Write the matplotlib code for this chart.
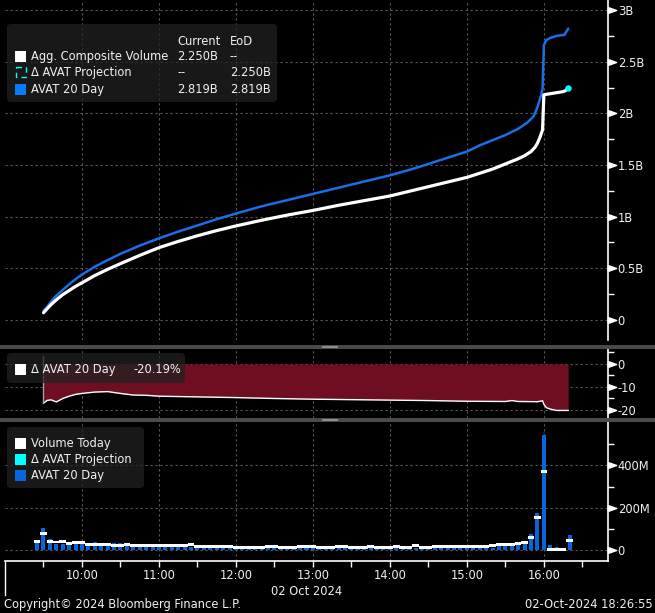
import numpy as np
import matplotlib
matplotlib.use('Agg')
import matplotlib.pyplot as plt
from matplotlib.patches import Rectangle, FancyBboxPatch
from matplotlib.transforms import ScaledTranslation


def hrs(s):
    h, m = s.split(':')
    return int(h) + int(m) / 60.0


# ---- top panel: cumulative volume (B) ----
agg_times = ['9:30', '9:33', '9:36', '9:40', '9:45', '9:50', '9:55', '10:00', '10:10',
             '10:20', '10:30', '10:45', '11:00', '11:15', '11:30', '11:45', '12:00', '12:20',
             '12:40', '13:00', '13:20', '13:40', '14:00', '14:20', '14:40', '15:00', '15:10',
             '15:20', '15:30', '15:40', '15:45', '15:50', '15:53', '15:55', '15:57', '15:59',
             '16:00', '16:05', '16:10', '16:15', '16:17', '16:19']
agg_vol = [0.07, 0.11, 0.15, 0.195, 0.245, 0.285, 0.325, 0.36, 0.43,
           0.49, 0.545, 0.625, 0.70, 0.76, 0.815, 0.865, 0.91, 0.965,
           1.015, 1.06, 1.11, 1.155, 1.20, 1.26, 1.32, 1.38, 1.42,
           1.46, 1.51, 1.56, 1.59, 1.63, 1.67, 1.71, 1.77, 1.84,
           2.18, 2.19, 2.20, 2.21, 2.22, 2.25]

avat_times = ['9:30', '9:33', '9:36', '9:40', '9:45', '9:50', '9:55', '10:00', '10:10',
              '10:20', '10:30', '10:45', '11:00', '11:15', '11:30', '11:45', '12:00', '12:20',
              '12:40', '13:00', '13:20', '13:40', '14:00', '14:20', '14:40', '15:00', '15:10',
              '15:20', '15:30', '15:40', '15:47', '15:52', '15:55', '15:58', '15:59',
              '16:00', '16:02', '16:05', '16:10', '16:16', '16:19']
avat_vol = [0.09, 0.13, 0.18, 0.235, 0.29, 0.345, 0.395, 0.44, 0.515,
            0.58, 0.64, 0.72, 0.79, 0.855, 0.915, 0.975, 1.03, 1.10,
            1.16, 1.22, 1.28, 1.34, 1.40, 1.47, 1.55, 1.63, 1.69,
            1.74, 1.79, 1.85, 1.91, 1.97, 2.06, 2.18, 2.24,
            2.66, 2.71, 2.73, 2.75, 2.76, 2.82]

# ---- middle panel: delta vs AVAT 20 day (%) ----
pct_times = ['9:30', '9:33', '9:36', '9:40', '9:45', '9:50', '9:55', '10:00', '10:10',
             '10:20', '10:30', '10:40', '10:50', '11:00', '11:30', '12:00', '12:30', '13:00',
             '13:30', '14:00', '14:30', '15:00', '15:30', '15:35', '15:40', '15:55', '15:59',
             '16:00', '16:02', '16:05', '16:10', '16:19']
pct_vals = [-17.0, -15.8, -15.6, -16.5, -15.0, -14.0, -13.2, -12.8, -12.2,
            -12.0, -12.8, -13.5, -13.6, -14.0, -14.3, -14.6, -15.0, -15.3,
            -15.5, -15.7, -15.9, -16.2, -16.3, -15.9, -16.3, -16.4, -16.0,
            -17.5, -19.0, -19.6, -20.2, -20.19]

# ---- bottom panel: 5 minute volume (M), bars 9:25 .. 16:20 ----
bar_start, bar_end = '9:25', '16:20'
avat_bars = [32, 104, 53, 31, 31, 30, 32,
             32, 25, 39, 25, 22, 34, 34, 22, 18, 17, 17, 17,
             16, 15, 15, 15, 14, 14, 14, 13, 13, 13, 25, 13,
             12, 12, 12, 12, 12, 12, 12, 11, 11, 11, 11, 11,
             11, 11, 11, 11, 11, 11, 11, 11, 11, 11, 11, 22,
             11, 11, 11, 11, 11, 22, 22, 12, 12, 12, 12, 12,
             12, 12, 12, 12, 12, 20, 25, 27, 40, 43, 75, 174,
             544, 25, 15, 4, 70]
today_bars = [42, 79, 42, 39, 40, 31, 38,
              38, 27, 27, 27, 27, 23, 23, 28, 22, 22, 22, 22,
              22, 22, 22, 22, 22, 27, 20, 17, 17, 17, 17, 17,
              12, 12, 12, 12, 12, 17, 17, 12, 12, 12, 17, 17,
              17, 12, 12, 12, 17, 17, 12, 12, 12, 17, 12, 12,
              12, 17, 12, 12, 22, 14, 14, 16, 16, 16, 16, 16,
              16, 16, 16, 16, 23, 28, 28, 28, 32, 35, 59, 153,
              372, 4, 4, 4, 45]

W, H = 655, 613
BG = 'black'
TXT = '#eef0f2'
GRID = '#5a5a5a'
BLUE_LINE = '#1a6ee6'
BLUE_BAR = '#0a64dc'
CYAN = '#00ffff'
FS = 8.3

plt.rcParams['font.family'] = ['DejaVu Sans']
fig = plt.figure(figsize=(W / 100, H / 100), dpi=100, facecolor=BG)


def rect(top, bottom, left=5, right=608):
    return [left / W, 1 - bottom / H, (right - left) / W, (bottom - top) / H]


ax1 = fig.add_axes(rect(0, 340))
ax2 = fig.add_axes(rect(349, 418))
ax3 = fig.add_axes(rect(422, 561))

tri = [(-1, -0.7), (1, 0), (-1, 0.7), (-1, -0.7)]
offset = ScaledTranslation(4 / 100, 0, fig.dpi_scale_trans)
hours = np.arange(10, 17)

for ax in (ax1, ax2, ax3):
    ax.set_facecolor(BG)
    for side in ('top', 'left', 'bottom'):
        ax.spines[side].set_visible(False)
    ax.spines['right'].set_color('white')
    ax.spines['right'].set_linewidth(1.2)
    ax.set_xlim(9.0, 16 + 50 / 60)
    ax.yaxis.tick_right()
    ax.tick_params(axis='y', which='major', length=0, pad=7, labelcolor=TXT, labelsize=FS)
    ax.tick_params(axis='y', which='minor', length=4, width=1, color='white', direction='out')
    ax.set_xticks(hours)
    ax.grid(True, which='major', color=GRID, linestyle=(0, (2, 2.5)), linewidth=0.8)
    ax.set_axisbelow(True)

for ax in (ax1, ax2):
    ax.tick_params(axis='x', length=0, labelbottom=False)

# top panel
ax1.plot([hrs(t) for t in avat_times], avat_vol, color=BLUE_LINE, lw=1.8,
         solid_capstyle='round', solid_joinstyle='round')
ax1.plot([hrs(t) for t in agg_times], agg_vol, color='white', lw=2.3,
         solid_capstyle='round', solid_joinstyle='round')
ax1.plot(hrs(agg_times[-1]), agg_vol[-1], 'o', color=CYAN, ms=3.6)
ax1.set_ylim(-0.194, 3.097)
yt1 = np.arange(0, 3.01, 0.5)
ax1.set_yticks(yt1)
ax1.set_yticklabels(['0', '0.5B', '1B', '1.5B', '2B', '2.5B', '3B'])
ax1.set_yticks(np.arange(0.25, 3.0, 0.5), minor=True)

# middle panel
pt = [hrs(t) for t in pct_times]
ax2.fill_between(pt, pct_vals, 0, color='#6e0e20', lw=0)
ax2.plot(pt, pct_vals, color='white', lw=1.0)
ax2.plot([pt[0], pt[0]], [3.5, pct_vals[0]], color='#a0a0a0', lw=1.0)
ax2.set_ylim(-23.48, 6.52)
yt2 = [0, -10, -20]
ax2.set_yticks(yt2)
ax2.set_yticklabels(['0', '-10', '-20'])
ax2.set_yticks([5, -5, -15], minor=True)

# bottom panel
bt = np.arange(hrs(bar_start), hrs(bar_end) + 1e-6, 5 / 60)
ax3.bar(bt, avat_bars, width=0.052, color=BLUE_BAR, lw=0)
ax3.bar(bt, 14, bottom=np.array(today_bars) - 7, width=0.085, color='white', lw=0)
ax3.set_ylim(-50.4, 603.8)
yt3 = [0, 200, 400]
ax3.set_yticks(yt3)
ax3.set_yticklabels(['0', '200M', '400M'])
ax3.set_yticks([100, 300, 500], minor=True)
ax3.spines['bottom'].set_visible(True)
ax3.spines['bottom'].set_color('white')
ax3.spines['bottom'].set_linewidth(1.2)
ax3.set_xticks(np.arange(9.5, 16.8, 1.0), minor=True)
ax3.set_xticklabels(['%d:00' % h for h in hours])
ax3.tick_params(axis='x', which='both', length=4, width=1, color='white', direction='out',
                pad=2, labelcolor=TXT, labelsize=FS)
ax3.set_xlabel('02 Oct 2024', color=TXT, fontsize=FS, labelpad=2)

# right side arrow markers at major ticks
for ax, ticks in ((ax1, yt1), (ax2, yt2), (ax3, yt3)):
    ax.plot(np.ones(len(ticks)), ticks, ls='', marker=tri, ms=6, color='white',
            transform=ax.get_yaxis_transform() + offset, clip_on=False)

# overlay for separators, legends, footer
ov = fig.add_axes([0, 0, 1, 1], zorder=10)
ov.set_xlim(0, W)
ov.set_ylim(H, 0)
ov.axis('off')
ov.patch.set_alpha(0)

for y in (345, 418):
    ov.add_patch(Rectangle((0, y), W, 3.5, color='#4a4a4a', lw=0))
    ov.add_patch(Rectangle((322, y + 0.8), 16, 1.8, color='#8c8c8c', lw=0))
ov.plot([4.5, 4.5], [561, 595], color='white', lw=1)


def legend_box(x0, y0, x1, y1):
    ov.add_patch(FancyBboxPatch((x0, y0), x1 - x0, y1 - y0,
                                boxstyle='round,pad=0,rounding_size=4',
                                fc=(0.13, 0.13, 0.13, 0.75), ec='none'))


def swatch(y, color, outline=False):
    if outline:
        ov.add_patch(Rectangle((15.5, y - 5), 10, 10, fill=False, ec=color, lw=1,
                               linestyle=(0, (4, 3))))
    else:
        ov.add_patch(Rectangle((15, y - 5.5), 11, 11, color=color, lw=0))


def label(x, y, s, ha='left'):
    ov.text(x, y + 4, s, color=TXT, fontsize=FS, ha=ha, va='baseline')


# top legend
legend_box(7, 24, 277, 102)
label(177, 41, 'Current')
label(230, 41, 'EoD')
top_rows = [('Agg. Composite Volume', '2.250B', '--', 'white', False),
            ('Δ AVAT Projection', '--', '2.250B', CYAN, True),
            ('AVAT 20 Day', '2.819B', '2.819B', '#0a7aff', False)]
for (name, cur, eod, col, outl), y in zip(top_rows, (56, 72, 89)):
    swatch(y, col, outl)
    label(31, y, name)
    label(177, y, cur)
    label(230, y, eod)

# middle legend
legend_box(7, 353, 185, 383)
swatch(369, 'white')
label(31, 369, 'Δ AVAT 20 Day')
label(133, 369, '-20.19%')

# bottom legend
legend_box(7, 427, 144, 488)
for (name, col), y in zip((('Volume Today', 'white'), ('Δ AVAT Projection', CYAN),
                           ('AVAT 20 Day', BLUE_BAR)), (443, 459, 475)):
    swatch(y, col)
    label(31, y, name)

# footer
label(4, 604, 'Copyright© 2024 Bloomberg Finance L.P.')
label(653, 604, '02-Oct-2024 18:26:55', ha='right')

fig.savefig('out.png', dpi=100, facecolor=BG)
